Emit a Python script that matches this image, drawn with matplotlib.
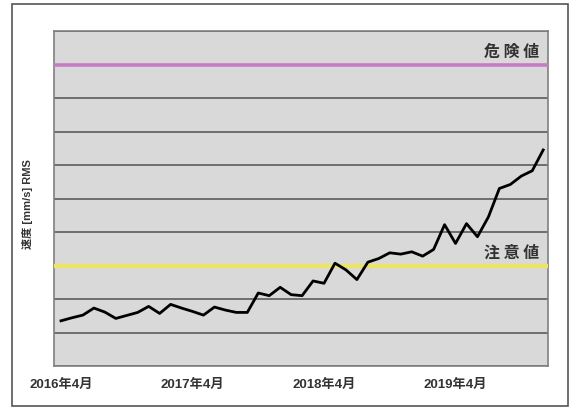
import matplotlib.pyplot as plt
from matplotlib.patches import Rectangle

plt.rcParams['font.family'] = ['Liberation Sans', 'Noto Sans CJK JP', 'DejaVu Sans']

# 月ごとの振動値 (2016年4月から)
tsuki = list(range(45))
sokudo = [1.35, 1.44, 1.52, 1.73, 1.61, 1.42, 1.51, 1.60, 1.78, 1.57,
          1.84, 1.73, 1.63, 1.52, 1.76, 1.67, 1.60, 1.60, 2.18, 2.10,
          2.35, 2.13, 2.10, 2.54, 2.47, 3.07, 2.87, 2.58, 3.10, 3.21,
          3.38, 3.34, 3.41, 3.28, 3.48, 4.22, 3.66, 4.25, 3.86, 4.45,
          5.30, 5.42, 5.67, 5.83, 6.45]
ticks_x = [0, 12, 24, 36]
etiquetas_x = ['2016年4月', '2017年4月', '2018年4月', '2019年4月']
kiken = 9
chui = 3

fig = plt.figure(figsize=(5.75, 4.07), dpi=100)
ax = fig.add_axes([0.0939, 0.1007, 0.859, 0.823])
ax.set_facecolor('#d9d9d9')

# marco exterior
fig.patches.append(Rectangle((12 / 575, 1 / 407), 556 / 575, 402 / 407,
                             transform=fig.transFigure, fill=False,
                             edgecolor='#555555', linewidth=1.2))

ax.set_xlim(-0.64, 44.43)
ax.set_ylim(0, 10)
ax.set_yticks(range(11))
ax.set_yticklabels([])
ax.yaxis.grid(True, color='#6e6e6e', linewidth=1.4)
ax.tick_params(axis='y', length=0)
ax.set_xticks(ticks_x)
ax.set_xticklabels(etiquetas_x, fontsize=9.5, fontweight='bold', color='#333333')
ax.tick_params(axis='x', length=0, pad=9)
for s in ax.spines.values():
    s.set_color('#808080')
    s.set_linewidth(1.2)

ax.axhline(kiken, color='#c47cc4', linewidth=2.6, zorder=3)
ax.axhline(chui, color='#ece467', linewidth=3.2, zorder=3)

ax.plot(tsuki, sokudo, color='black', linewidth=2.0, zorder=4)

ax.text(43.6, kiken + 0.15, '危 険 値', ha='right', va='bottom', fontsize=11.5,
        color='#333333', family=['Noto Sans CJK JP'], fontweight='bold')
ax.text(43.6, chui + 0.15, '注 意 値', ha='right', va='bottom', fontsize=11.5,
        color='#333333', family=['Noto Sans CJK JP'], fontweight='bold')

ax.set_ylabel('速度 [mm/s] RMS', fontsize=8, fontweight='bold', color='#333333')
ax.yaxis.set_label_coords(-0.0425, 0.484)

fig.savefig('out.png', dpi=100)
